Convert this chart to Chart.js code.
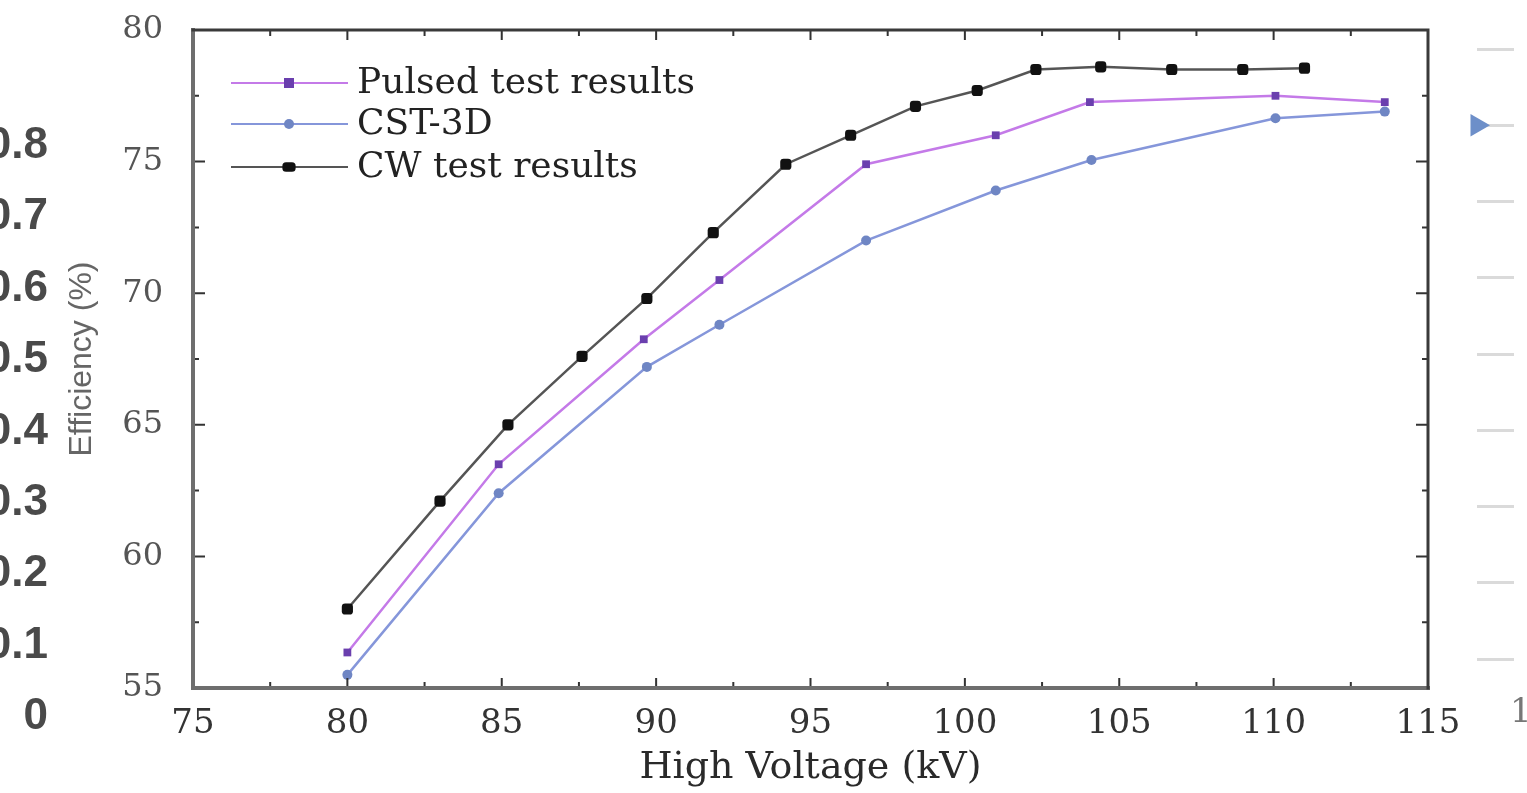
<!DOCTYPE html>
<html>
<head>
<meta charset="utf-8">
<script src="https://cdn.jsdelivr.net/npm/chart.js@4/dist/chart.umd.min.js"></script>
<style>
  html, body { margin:0; padding:0; background:#fff; width:1527px; height:793px; overflow:hidden; }
  #main { position:absolute; left:0; top:0; }
  #side { position:absolute; left:1464px; top:36px; }
  .frag { position:absolute; font-family:"Liberation Sans", Arial, sans-serif; font-weight:bold; font-size:44px; color:#4a4a4a; text-align:right; width:80px; line-height:44px; }
  #one { position:absolute; left:1510px; top:690px; font-family:"DejaVu Serif", serif; font-size:34px; color:#777; }
</style>
</head>
<body>
<canvas id="main" width="1527" height="793"></canvas>
<canvas id="side" width="63" height="644"></canvas>
<div id="one">1</div>
<script>
// ---- data ----
const pulsedX = [80, 84.9, 89.6, 92.05, 96.8, 101.0, 104.05, 110.06, 113.6];
const pulsedY = [56.35, 63.5, 68.25, 70.5, 74.9, 76.0, 77.26, 77.5, 77.26];

const cstX = [80, 84.9, 89.7, 92.05, 96.8, 101.0, 104.1, 110.06, 113.6];
const cstY = [55.5, 62.4, 67.2, 68.8, 72.0, 73.9, 75.06, 76.65, 76.9];

const cwX = [80, 83.0, 85.2, 87.6, 89.7, 91.85, 94.2, 96.3, 98.4, 100.4, 102.3, 104.4, 106.7, 109.0, 111.0];
const cwY = [58.0, 62.1, 65.0, 67.6, 69.8, 72.3, 74.9, 76.0, 77.1, 77.7, 78.5, 78.6, 78.5, 78.5, 78.55];

const seriesLabels = ['Pulsed test results', 'CST-3D', 'CW test results'];
const xTickStep = 5, yTickStep = 5;
const xRange = [75, 115], yRange = [55, 80];

// neighbouring-figure fragments visible in the screenshot
const leftFragLabels = ['0.8', '0.7', '0.6', '0.5', '0.4', '0.3', '0.2', '0.1', '0'];
const sideGridRange = [0, 8];
const sideMarkerY = [7];

// ---- fragments (left labels) ----
leftFragLabels.forEach((t, i) => {
  const d = document.createElement('div');
  d.className = 'frag';
  d.textContent = t;
  d.style.left = (48 - 80) + 'px';
  d.style.top = (143 - 22 + i * 71.4) + 'px';
  document.body.appendChild(d);
});

const toPts = (xs, ys) => xs.map((x, i) => ({ x, y: ys[i] }));

function drawMarker(ctx, style, x, y, r, color) {
  ctx.save();
  ctx.fillStyle = color;
  ctx.beginPath();
  if (style === 'circle') {
    ctx.arc(x, y, r, 0, Math.PI * 2);
  } else if (style === 'rectRounded') {
    const w = r * 2.2, h = r * 1.6, rr = r * 0.6;
    ctx.roundRect(x - w / 2, y - h / 2, w, h, rr);
  } else {
    ctx.rect(x - r, y - r, 2 * r, 2 * r);
  }
  ctx.fill();
  ctx.restore();
}

const datasets = [
  { label: seriesLabels[0], data: toPts(pulsedX, pulsedY), borderColor: '#c47ae8', backgroundColor: '#6a3fae',
    pointStyle: 'rect', pointRadius: 5.5, borderWidth: 2.5, pointBorderColor: '#6a3fae', legendStyle: 'rect', legendR: 5 },
  { label: seriesLabels[1], data: toPts(cstX, cstY), borderColor: '#8596da', backgroundColor: '#6f86c4',
    pointStyle: 'circle', pointRadius: 5, borderWidth: 2.5, pointBorderColor: '#6f86c4', legendStyle: 'circle', legendR: 5 },
  { label: seriesLabels[2], data: toPts(cwX, cwY), borderColor: '#555', backgroundColor: '#111',
    pointStyle: 'rectRounded', pointRadius: 6.5, borderWidth: 2.5, pointBorderColor: '#111', legendStyle: 'rectRounded', legendR: 6 }
];

const framePlugin = {
  id: 'frame',
  afterDatasetsDraw(chart) {
    const { ctx, chartArea: a, scales: { x, y } } = chart;
    ctx.save();
    ctx.strokeStyle = '#333';
    ctx.lineWidth = 2;
    for (let v = xRange[0]; v <= xRange[1] + 1e-9; v += xTickStep / 2) {
      const px = x.getPixelForValue(v);
      const len = (Math.abs(v % xTickStep) < 1e-9) ? 10 : 6;
      ctx.beginPath();
      ctx.moveTo(px, a.bottom); ctx.lineTo(px, a.bottom - len);
      ctx.moveTo(px, a.top); ctx.lineTo(px, a.top + len);
      ctx.stroke();
    }
    for (let v = yRange[0]; v <= yRange[1] + 1e-9; v += yTickStep / 2) {
      const py = y.getPixelForValue(v);
      const len = (Math.abs(v % yTickStep) < 1e-9) ? 12 : 6;
      ctx.beginPath();
      ctx.moveTo(a.left, py); ctx.lineTo(a.left + len, py);
      ctx.moveTo(a.right, py); ctx.lineTo(a.right - len, py);
      ctx.stroke();
    }
    ctx.lineCap = 'square';
    ctx.strokeStyle = '#6e6e6e'; ctx.lineWidth = 4;
    ctx.beginPath();
    ctx.moveTo(a.left, a.top); ctx.lineTo(a.left, a.bottom); ctx.lineTo(a.right, a.bottom);
    ctx.stroke();
    ctx.strokeStyle = '#3a3a3a'; ctx.lineWidth = 3;
    ctx.beginPath();
    ctx.moveTo(a.left, a.top); ctx.lineTo(a.right, a.top); ctx.lineTo(a.right, a.bottom);
    ctx.stroke();
    ctx.restore();
  }
};

const legendPlugin = {
  id: 'innerLegend',
  afterDraw(chart) {
    const ctx = chart.ctx;
    const rows = [83, 124, 167];
    ctx.save();
    chart.data.datasets.forEach((ds, i) => {
      const yy = rows[i];
      ctx.strokeStyle = ds.borderColor;
      ctx.lineWidth = 2;
      ctx.beginPath();
      ctx.moveTo(231, yy); ctx.lineTo(348, yy);
      ctx.stroke();
      drawMarker(ctx, ds.legendStyle, 289, yy, ds.legendR, ds.backgroundColor);
      ctx.fillStyle = '#222';
      ctx.font = '36px "DejaVu Serif", serif';
      ctx.textBaseline = 'middle';
      ctx.textAlign = 'left';
      ctx.fillText(ds.label, 357, yy + 1);
    });
    ctx.restore();
  }
};

new Chart(document.getElementById('main'), {
  type: 'scatter',
  data: { datasets: datasets.map(d => Object.assign({ showLine: true, tension: 0, pointBorderWidth: 0 }, d)) },
  options: {
    responsive: false,
    animation: false,
    devicePixelRatio: 1,
    layout: { padding: { left: 0, right: 99, top: 30, bottom: 0 } },
    plugins: { legend: { display: false }, tooltip: { enabled: false } },
    scales: {
      x: {
        type: 'linear', min: xRange[0], max: xRange[1],
        ticks: { stepSize: xTickStep, autoSkip: false, maxRotation: 0, padding: 8, color: '#333',
                 font: { family: '"DejaVu Serif", serif', size: 34 } },
        grid: { display: false }, border: { display: false },
        title: { display: true, text: 'High Voltage (kV)', color: '#2a2a2a',
                 font: { family: '"DejaVu Serif", serif', size: 38 }, padding: { top: 0, bottom: 2 } },
        afterFit(s) { s.height = 105; }
      },
      y: {
        type: 'linear', min: yRange[0], max: yRange[1],
        ticks: { stepSize: yTickStep, padding: 22, color: '#555',
                 font: { family: '"DejaVu Serif", serif', size: 32 } },
        grid: { display: false }, border: { display: false },
        title: { display: true, text: 'Efficiency (%)', color: '#666',
                 font: { family: '"Liberation Sans", Arial, sans-serif', size: 32 }, padding: { top: 63, bottom: 0 } },
        afterFit(s) { s.width = 193; s.paddingTop = 0; s.paddingBottom = 0; }
      }
    }
  },
  plugins: [framePlugin, legendPlugin]
});

// right-side fragment of a neighbouring figure
new Chart(document.getElementById('side'), {
  type: 'scatter',
  data: { datasets: [{ data: sideMarkerY.map(v => ({ x: 0, y: v })), pointStyle: 'triangle', rotation: 90,
                       pointRadius: 13, backgroundColor: '#6d8fc9', borderWidth: 0, clip: false }] },
  options: {
    responsive: false, animation: false, devicePixelRatio: 1,
    layout: { padding: { left: 6, right: 0, top: 12, bottom: 21 } },
    plugins: { legend: { display: false }, tooltip: { enabled: false } },
    scales: {
      x: { display: false, min: 0, max: 1 },
      y: { min: sideGridRange[0], max: sideGridRange[1], ticks: { display: false, stepSize: 1 },
           grid: { color: '#dadada', lineWidth: 3, drawTicks: false }, border: { display: false },
           afterFit(s) { s.width = 0; s.paddingTop = 0; s.paddingBottom = 0; } }
    }
  }
});
</script>
</body>
</html>
